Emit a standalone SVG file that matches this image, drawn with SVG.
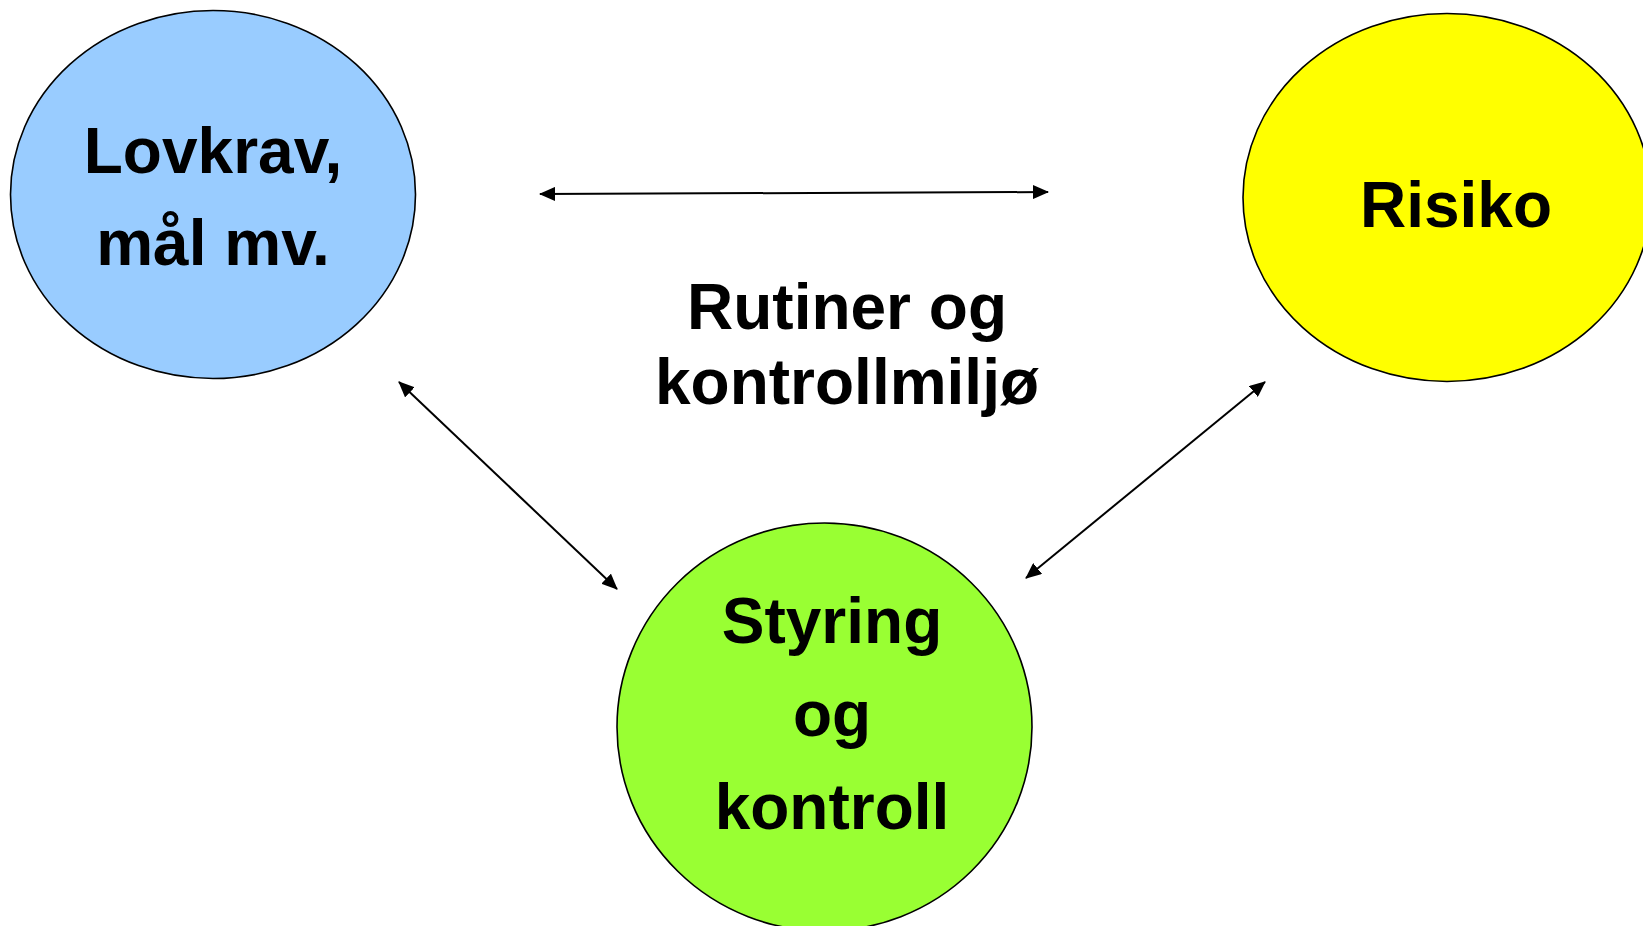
<svg xmlns="http://www.w3.org/2000/svg" width="1643" height="926" viewBox="0 0 1643 926">
<style>
.node ellipse{stroke:#000;stroke-width:1.6}
.lbl{font-family:"Liberation Sans",Arial,sans-serif;font-weight:bold;font-size:64px;fill:#000;text-anchor:middle}
.conn line{stroke:#000;stroke-width:2;fill:none}
</style>
<defs>
<marker id="ah" markerUnits="userSpaceOnUse" markerWidth="16" markerHeight="14" refX="15" refY="7" orient="auto-start-reverse" viewBox="0 0 16 14">
<path d="M0,0 L16,7 L0,14 Z" fill="#000"/>
</marker>
</defs>
<rect width="1643" height="926" fill="#fff"/>
<g id="node-lovkrav" class="node">
<ellipse cx="213" cy="194.5" rx="202.5" ry="184" fill="#99CCFF"/>
<text class="lbl" x="213" y="173">Lovkrav,</text>
<text class="lbl" x="213" y="265">mål mv.</text>
</g>
<g id="node-risiko" class="node">
<ellipse cx="1447" cy="197.5" rx="204" ry="184" fill="#FFFF00"/>
<text class="lbl" x="1456" y="227">Risiko</text>
</g>
<g id="node-styring" class="node">
<ellipse cx="824.5" cy="727" rx="207.5" ry="204" fill="#99FF33"/>
<text class="lbl" x="832" y="643">Styring</text>
<text class="lbl" x="832" y="736">og</text>
<text class="lbl" x="832" y="829">kontroll</text>
</g>
<g id="label-rutiner">
<text class="lbl" x="847" y="329">Rutiner og</text>
<text class="lbl" x="847" y="404">kontrollmiljø</text>
</g>
<g id="connectors" class="conn">
<line x1="540" y1="194" x2="1048" y2="192" marker-start="url(#ah)" marker-end="url(#ah)"/>
<line x1="399" y1="382" x2="617" y2="589" marker-start="url(#ah)" marker-end="url(#ah)"/>
<line x1="1265" y1="382" x2="1026" y2="578" marker-start="url(#ah)" marker-end="url(#ah)"/>
</g>
</svg>
